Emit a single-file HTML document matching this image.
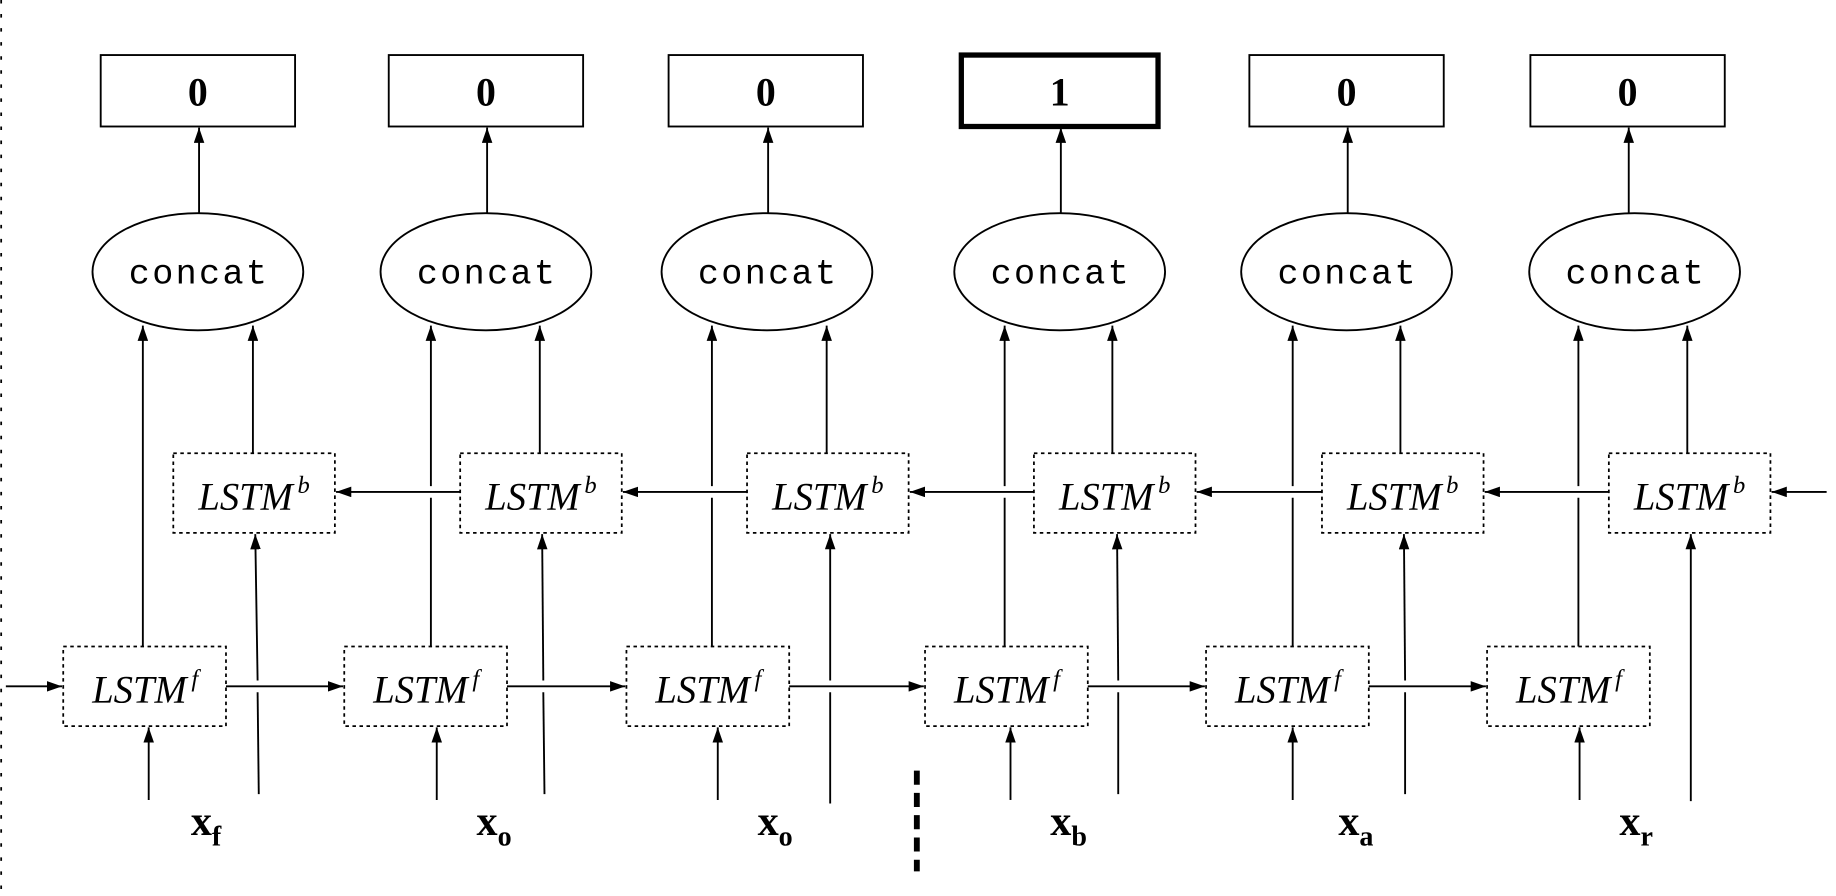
<!DOCTYPE html>
<html><head><meta charset="utf-8"><style>
html,body{margin:0;padding:0;background:#fff;}
svg{display:block;}
.m{font-family:"Liberation Mono",monospace;font-size:30px;letter-spacing:2px;}
.i{font-family:"Liberation Serif",serif;font-style:italic;font-size:33px;}
.n{font-family:"Liberation Serif",serif;font-weight:bold;font-size:34px;}
.x{font-family:"Liberation Serif",serif;font-weight:bold;font-size:36px;}
</style></head><body>
<svg width="1836" height="896" viewBox="0 0 1568 765" preserveAspectRatio="none" xmlns="http://www.w3.org/2000/svg">
<defs><marker id="a" markerWidth="13" markerHeight="9" refX="13" refY="4.5" orient="auto" markerUnits="userSpaceOnUse"><path d="M0,0 L13,4.5 L0,9 z" fill="#000"/></marker></defs>
<line x1="1" y1="0" x2="1" y2="765" stroke="#000" stroke-width="1.5" stroke-dasharray="3,9"/>
<g fill="none" stroke="#000" stroke-width="1.6">
<rect x="86" y="47" width="166" height="61"/>
<rect x="332" y="47" width="166" height="61"/>
<rect x="571" y="47" width="166" height="61"/>
<rect x="821" y="47" width="168" height="61" stroke-width="4.5"/>
<rect x="1067" y="47" width="166" height="61"/>
<rect x="1307" y="47" width="166" height="61"/>
<ellipse cx="169" cy="232" rx="90" ry="50"/>
<ellipse cx="415" cy="232" rx="90" ry="50"/>
<ellipse cx="655" cy="232" rx="90" ry="50"/>
<ellipse cx="905" cy="232" rx="90" ry="50"/>
<ellipse cx="1150" cy="232" rx="90" ry="50"/>
<ellipse cx="1396" cy="232" rx="90" ry="50"/>
<g stroke-dasharray="3,3" stroke-width="1.5">
<rect x="148" y="387" width="138" height="68"/><rect x="393" y="387" width="138" height="68"/><rect x="638" y="387" width="138" height="68"/><rect x="883" y="387" width="138" height="68"/><rect x="1129" y="387" width="138" height="68"/><rect x="1374" y="387" width="138" height="68"/>
<rect x="54" y="552" width="139" height="68"/><rect x="294" y="552" width="139" height="68"/><rect x="535" y="552" width="139" height="68"/><rect x="790" y="552" width="139" height="68"/><rect x="1030" y="552" width="139" height="68"/><rect x="1270" y="552" width="139" height="68"/>
</g>
</g>
<g stroke="#000" stroke-width="1.6" marker-end="url(#a)">
<line x1="170" y1="182" x2="170" y2="109"/><line x1="416" y1="182" x2="416" y2="109"/><line x1="656" y1="182" x2="656" y2="109"/><line x1="906" y1="182" x2="906" y2="109"/><line x1="1151" y1="182" x2="1151" y2="109"/><line x1="1391" y1="182" x2="1391" y2="109"/>
<line x1="122" y1="552" x2="122" y2="278"/><line x1="368" y1="415" x2="368" y2="278"/><line x1="608" y1="415" x2="608" y2="278"/><line x1="858" y1="415" x2="858" y2="278"/><line x1="1104" y1="415" x2="1104" y2="278"/><line x1="1348" y1="415" x2="1348" y2="278"/>
<line x1="216" y1="387" x2="216" y2="278"/><line x1="461" y1="387" x2="461" y2="278"/><line x1="706" y1="387" x2="706" y2="278"/><line x1="950" y1="387" x2="950" y2="278"/><line x1="1196" y1="387" x2="1196" y2="278"/><line x1="1441" y1="387" x2="1441" y2="278"/>
<line x1="127" y1="683" x2="127" y2="621"/><line x1="373" y1="683" x2="373" y2="621"/><line x1="613" y1="683" x2="613" y2="621"/><line x1="863" y1="683" x2="863" y2="621"/><line x1="1104" y1="683" x2="1104" y2="621"/><line x1="1349" y1="683" x2="1349" y2="621"/>
<line x1="220" y1="581" x2="218" y2="456"/><line x1="464" y1="581" x2="463" y2="456"/><line x1="709" y1="581" x2="709" y2="456"/><line x1="955" y1="581" x2="954" y2="456"/><line x1="1200" y1="581" x2="1199" y2="456"/><line x1="1444" y1="684" x2="1444" y2="456"/>
<line x1="5" y1="586" x2="53" y2="586"/><line x1="193" y1="586" x2="293" y2="586"/><line x1="433" y1="586" x2="534" y2="586"/><line x1="674" y1="586" x2="789" y2="586"/><line x1="929" y1="586" x2="1029" y2="586"/><line x1="1169" y1="586" x2="1269" y2="586"/>
<line x1="1560" y1="420" x2="1513" y2="420"/><line x1="1374" y1="420" x2="1268" y2="420"/><line x1="1129" y1="420" x2="1022" y2="420"/><line x1="883" y1="420" x2="777" y2="420"/><line x1="638" y1="420" x2="532" y2="420"/><line x1="393" y1="420" x2="287" y2="420"/>
</g>
<g stroke="#000" stroke-width="1.6">
<line x1="368" y1="552" x2="368" y2="425"/><line x1="608" y1="552" x2="608" y2="425"/><line x1="858" y1="552" x2="858" y2="425"/><line x1="1104" y1="552" x2="1104" y2="425"/><line x1="1348" y1="552" x2="1348" y2="425"/>
<line x1="221" y1="678" x2="220" y2="591"/><line x1="465" y1="678" x2="464" y2="591"/><line x1="709" y1="686" x2="709" y2="591"/><line x1="955" y1="678" x2="955" y2="591"/><line x1="1200" y1="678" x2="1200" y2="591"/>
</g>
<line x1="783" y1="658" x2="783" y2="744" stroke="#000" stroke-width="5" stroke-dasharray="12,7"/>
<g class="n" text-anchor="middle">
<text x="169" y="90">0</text><text x="415" y="90">0</text><text x="654" y="90">0</text><text x="905" y="90">1</text><text x="1150" y="90">0</text><text x="1390" y="90">0</text>
</g>
<g class="m" text-anchor="middle">
<text x="170" y="242">concat</text><text x="416" y="242">concat</text><text x="656" y="242">concat</text><text x="906" y="242">concat</text><text x="1151" y="242">concat</text><text x="1397" y="242">concat</text>
</g>
<g class="i" text-anchor="middle">
<text x="217" y="435">LSTM<tspan font-size="21" dx="4" dy="-14">b</tspan></text>
<text x="462" y="435">LSTM<tspan font-size="21" dx="4" dy="-14">b</tspan></text>
<text x="707" y="435">LSTM<tspan font-size="21" dx="4" dy="-14">b</tspan></text>
<text x="952" y="435">LSTM<tspan font-size="21" dx="4" dy="-14">b</tspan></text>
<text x="1198" y="435">LSTM<tspan font-size="21" dx="4" dy="-14">b</tspan></text>
<text x="1443" y="435">LSTM<tspan font-size="21" dx="4" dy="-14">b</tspan></text>
<text x="124" y="600">LSTM<tspan font-size="21" dx="4" dy="-14">f</tspan></text>
<text x="364" y="600">LSTM<tspan font-size="21" dx="4" dy="-14">f</tspan></text>
<text x="605" y="600">LSTM<tspan font-size="21" dx="4" dy="-14">f</tspan></text>
<text x="860" y="600">LSTM<tspan font-size="21" dx="4" dy="-14">f</tspan></text>
<text x="1100" y="600">LSTM<tspan font-size="21" dx="4" dy="-14">f</tspan></text>
<text x="1340" y="600">LSTM<tspan font-size="21" dx="4" dy="-14">f</tspan></text>
</g>
<g class="x">
<text x="163" y="713">x<tspan font-size="24" dy="9">f</tspan></text>
<text x="407" y="713">x<tspan font-size="24" dy="9">o</tspan></text>
<text x="647" y="713">x<tspan font-size="24" dy="9">o</tspan></text>
<text x="897" y="713">x<tspan font-size="24" dy="9">b</tspan></text>
<text x="1143" y="713">x<tspan font-size="24" dy="9">a</tspan></text>
<text x="1383" y="713">x<tspan font-size="24" dy="9">r</tspan></text>
</g>
</svg>
</body></html>
